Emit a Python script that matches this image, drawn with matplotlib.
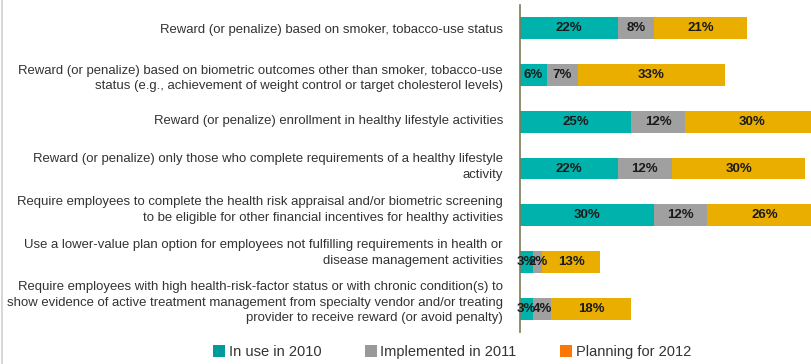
import numpy as np
import matplotlib.pyplot as plt
from matplotlib.patches import Patch

plt.rcParams['font.family'] = ['Liberation Sans', 'DejaVu Sans']

categories = [
    "Reward (or penalize) based on smoker, tobacco-use status",
    "Reward (or penalize) based on biometric outcomes other than smoker, tobacco-use\nstatus (e.g., achievement of weight control or target cholesterol levels)",
    "Reward (or penalize) enrollment in healthy lifestyle activities",
    "Reward (or penalize) only those who complete requirements of a healthy lifestyle\nactivity",
    "Require employees to complete the health risk appraisal and/or biometric screening\nto be eligible for other financial incentives for healthy activities",
    "Use a lower-value plan option for employees not fulfilling requirements in health or\ndisease management activities",
    "Require employees with high health-risk-factor status or with chronic condition(s) to\nshow evidence of active treatment management from specialty vendor and/or treating\nprovider to receive reward (or avoid penalty)",
]
in_use_2010 = [22, 6, 25, 22, 30, 3, 3]
implemented_2011 = [8, 7, 12, 12, 12, 2, 4]
planning_2012 = [21, 33, 30, 30, 26, 13, 18]

series = [
    ("In use in 2010", in_use_2010, "#00B2AC", "#009C9A"),
    ("Implemented in 2011", implemented_2011, "#A0A0A0", "#999999"),
    ("Planning for 2012", planning_2012, "#E9AE00", "#FF7700"),
]

# the category labels sit a little above their bars further down the chart
label_shift = [0, 0, -0.04, -0.1, -0.18, -0.26, -0.2]

fig = plt.figure(figsize=(8.12, 3.64), dpi=100)
ax = fig.add_axes([520 / 812, 32 / 364, 1 - 520 / 812, 327 / 364])

y = np.arange(len(categories))
left = np.zeros(len(categories))
for name, vals, color, _ in series:
    vals = np.array(vals, dtype=float)
    ax.barh(y, vals, left=left, height=0.47, color=color, edgecolor='none')
    for yi, l, v in zip(y, left, vals):
        ax.text(l + v / 2, yi, f"{int(v)}%", ha='center', va='center',
                fontsize=9.5, fontweight='bold', color='#1a1a1a')
    left += vals

ax.set_xlim(0, 292 / 4.46)
ax.set_ylim(len(categories) - 0.5, -0.5)
ax.set_yticks(y + np.array(label_shift))
ax.set_yticklabels(categories, fontsize=9.45, color='#333333', linespacing=1.4)
ax.tick_params(axis='y', length=0, pad=12.3)
ax.set_xticks([])
for s in ['top', 'right', 'bottom']:
    ax.spines[s].set_visible(False)
ax.spines['left'].set_color('#7d7a55')
ax.spines['left'].set_linewidth(1.2)

handles = [Patch(facecolor=lc, edgecolor='none', label=name) for name, _, _, lc in series]
fig.legend(handles=handles, loc='center', bbox_to_anchor=(452 / 812, 12 / 364),
           ncol=3, frameon=False, fontsize=10.5, handlelength=0.8, handleheight=0.8,
           handletextpad=0.25, columnspacing=3.0, labelcolor='#333333')

fig.add_artist(plt.Line2D([2.5 / 812, 2.5 / 812], [0, 1], transform=fig.transFigure,
                          color='#d0d0d0', linewidth=1.2))

fig.savefig('out.png', dpi=100)
